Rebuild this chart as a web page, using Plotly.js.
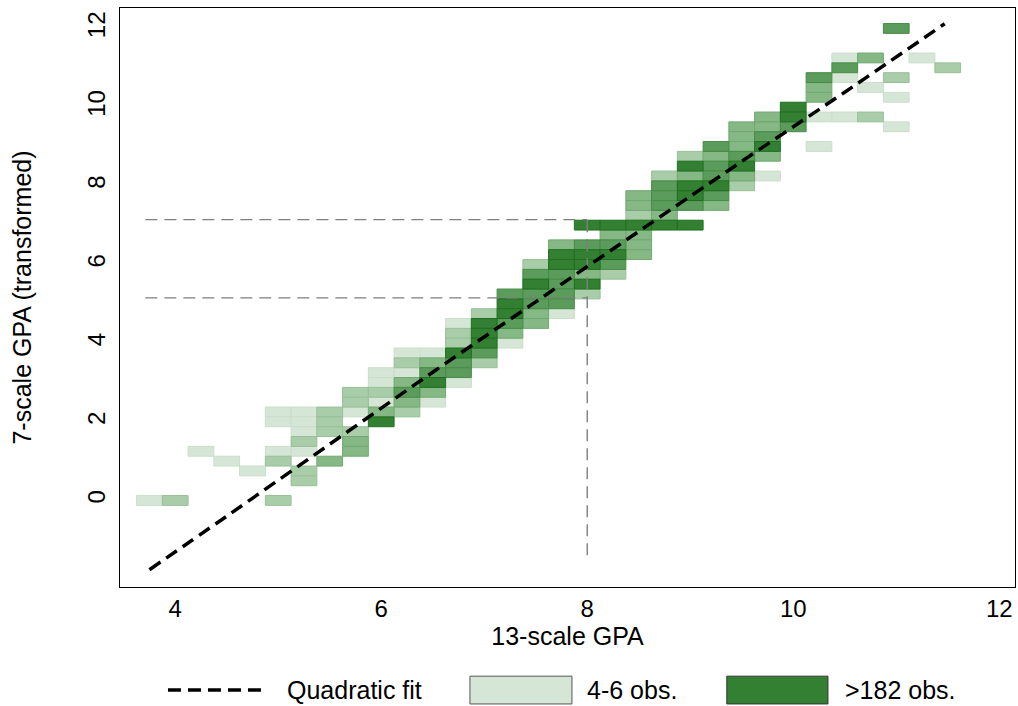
<!DOCTYPE html>
<html><head><meta charset="utf-8">
<script src="https://cdn.plot.ly/plotly-3.0.1.min.js"></script>
<style>html,body{margin:0;padding:0;background:#fff}#chart{width:1018px;height:706px}</style>
</head><body><div id="chart"></div>
<script>
// Cell centres (13-scale GPA, 7-scale GPA transformed) and shading level (1 = 4-6 obs. ... 5 = >182 obs.)
const cellX = [
  3.75, 4.0, 4.25, 4.5, 4.75,
  5.0, 5.0, 5.0, 5.0, 5.0,
  5.25, 5.25, 5.25, 5.25, 5.25, 5.25, 5.25,
  5.5, 5.5, 5.5, 5.5,
  5.75, 5.75, 5.75, 5.75, 5.75, 5.75,
  6.0, 6.0, 6.0, 6.0, 6.0, 6.0,
  6.25, 6.25, 6.25, 6.25, 6.25, 6.25, 6.25,
  6.5, 6.5, 6.5, 6.5, 6.5, 6.5,
  6.75, 6.75, 6.75, 6.75, 6.75, 6.75, 6.75,
  7.0, 7.0, 7.0, 7.0, 7.0, 7.0,
  7.25, 7.25, 7.25, 7.25, 7.25, 7.25,
  7.5, 7.5, 7.5, 7.5, 7.5, 7.5, 7.5,
  7.75, 7.75, 7.75, 7.75, 7.75, 7.75, 7.75, 7.75,
  8.0, 8.0, 8.0, 8.0, 8.0, 8.0, 8.0,
  8.25, 8.25, 8.25, 8.25, 8.25, 8.25,
  8.5, 8.5, 8.5, 8.5, 8.5, 8.5, 8.5,
  8.75, 8.75, 8.75, 8.75, 8.75, 8.75,
  9.0, 9.0, 9.0, 9.0, 9.0, 9.0, 9.0,
  9.25, 9.25, 9.25, 9.25, 9.25, 9.25, 9.25,
  9.5, 9.5, 9.5, 9.5, 9.5, 9.5, 9.5,
  9.75, 9.75, 9.75, 9.75, 9.75, 9.75,
  10.0, 10.0, 10.0,
  10.25, 10.25, 10.25, 10.25, 10.25,
  10.5, 10.5, 10.5, 10.5,
  10.75, 10.75, 10.75,
  11.0, 11.0, 11.0, 11.0,
  11.25,
  11.5
];
const cellY = [
  0, 0, 1.25, 1.0, 0.75,
  2.25, 2.0, 1.25, 1.0, 0,
  2.25, 2.0, 1.75, 1.5, 1.25, 0.75, 0.5,
  2.25, 2.0, 1.75, 1.0,
  2.75, 2.5, 2.25, 1.75, 1.5, 1.25,
  3.25, 3.0, 2.75, 2.5, 2.25, 2.0,
  3.75, 3.5, 3.25, 3.0, 2.75, 2.5, 2.25,
  3.75, 3.5, 3.25, 3.0, 2.75, 2.5,
  4.5, 4.25, 4.0, 3.75, 3.5, 3.25, 3.0,
  4.75, 4.5, 4.25, 4.0, 3.75, 3.5,
  5.25, 5.0, 4.75, 4.5, 4.25, 4.0,
  6.0, 5.75, 5.5, 5.25, 5.0, 4.75, 4.5,
  6.5, 6.25, 6.0, 5.75, 5.5, 5.25, 5.0, 4.75,
  7.0, 6.5, 6.25, 6.0, 5.75, 5.5, 5.25,
  7.0, 6.75, 6.5, 6.25, 6.0, 5.75,
  7.75, 7.5, 7.25, 7.0, 6.75, 6.5, 6.25,
  8.25, 8.0, 7.75, 7.5, 7.25, 7.0,
  8.75, 8.5, 8.25, 8.0, 7.75, 7.5, 7.0,
  9.0, 8.75, 8.5, 8.25, 8.0, 7.75, 7.5,
  9.5, 9.25, 9.0, 8.75, 8.5, 8.25, 8.0,
  9.75, 9.5, 9.25, 9.0, 8.75, 8.25,
  10.0, 9.75, 9.5,
  10.75, 10.5, 10.25, 9.75, 9.0,
  11.25, 11.0, 10.75, 9.75,
  11.25, 10.5, 9.75,
  12.0, 10.75, 10.25, 9.5,
  11.25,
  11.0
];
const cellLevel = [
  1, 2, 1, 1, 1,
  1, 1, 1, 2, 2,
  1, 1, 1, 2, 1, 2, 2,
  2, 2, 2, 3,
  2, 2, 1, 2, 3, 3,
  1, 1, 2, 1, 3, 5,
  1, 2, 1, 3, 4, 3, 2,
  1, 3, 4, 5, 3, 1,
  1, 2, 2, 5, 4, 4, 1,
  2, 5, 5, 5, 4, 2,
  4, 5, 5, 4, 3, 1,
  2, 4, 5, 4, 4, 3, 3,
  3, 5, 5, 4, 4, 4, 4, 1,
  5, 4, 5, 5, 3, 5, 2,
  5, 3, 4, 5, 4, 2,
  3, 3, 2, 5, 3, 3, 3,
  2, 4, 4, 4, 3, 5,
  2, 5, 3, 5, 5, 4, 5,
  4, 3, 4, 4, 5, 4, 3,
  3, 3, 3, 4, 5, 3, 2,
  3, 3, 4, 5, 3, 1,
  5, 5, 4,
  4, 3, 3, 1, 1,
  1, 4, 1, 1,
  3, 1, 2,
  4, 2, 1, 1,
  1,
  2
];
const levelFill = ['#d6e6d6', '#a9cca9', '#86b886', '#5b9b5b', '#338033'];
const levelEdge = ['#c9dec9', '#97c197', '#70a970', '#468c46', '#1f6f1f'];
const legendLevels = [1, 5];
const legendLabels = ['4-6 obs.', '>182 obs.'];

// Quadratic fit
const fitX = [3.75, 4.5, 5.5, 6.5, 7.5, 8.5, 9.5, 10.5, 11.47];
const fitY = [-1.76, -0.40, 1.43, 3.26, 5.05, 6.84, 8.62, 10.38, 12.12];

// Reference lines at 13-scale GPA = 8
const refX = 8;
const refLeftX = 3.71;
const refBottomY = -1.39;
const refLevels = [7.14, 5.15];

const binW = 0.25, binH = 0.25;
const FONT = '"Liberation Sans", Arial, Helvetica, sans-serif';

const traces = [];
for (let L = 1; L <= 5; L++) {
  const xs = [], bs = [], hs = [];
  cellX.forEach((x, i) => {
    if (cellLevel[i] === L) { xs.push(x); bs.push(cellY[i] - binH / 2); hs.push(binH); }
  });
  traces.push({
    type: 'bar', x: xs, y: hs, base: bs, width: binW,
    marker: { color: levelFill[L - 1], line: { color: levelEdge[L - 1], width: 1 } },
    showlegend: false, hoverinfo: 'skip'
  });
}
const refStyle = { color: '#7f7f7f', width: 1.4, dash: '12px,7px' };
refLevels.forEach(v => {
  traces.push({ type: 'scatter', mode: 'lines', x: [refLeftX, refX], y: [v, v], line: refStyle, showlegend: false, hoverinfo: 'skip' });
});
traces.push({ type: 'scatter', mode: 'lines', x: [refX, refX], y: [refBottomY, Math.max(...refLevels)], line: refStyle, showlegend: false, hoverinfo: 'skip' });
traces.push({ type: 'scatter', mode: 'lines', x: fitX, y: fitY, line: { color: '#000', width: 3.5, dash: '13px,7px', shape: 'spline' }, name: 'Quadratic fit', showlegend: false, hoverinfo: 'skip' });

// Custom legend row below the plot
const legY = -0.178;
const shapes = [
  { type: 'line', xref: 'paper', yref: 'paper', x0: 0.0536, x1: 0.165, y0: legY, y1: legY, line: { color: '#000', width: 3.5, dash: '13px,7px' } },
  { type: 'rect', xref: 'paper', yref: 'paper', x0: 0.391, x1: 0.505, y0: -0.202, y1: -0.154, fillcolor: levelFill[legendLevels[0] - 1], line: { color: '#555', width: 1 } },
  { type: 'rect', xref: 'paper', yref: 'paper', x0: 0.678, x1: 0.791, y0: -0.202, y1: -0.154, fillcolor: levelFill[legendLevels[1] - 1], line: { color: '#333', width: 1 } }
];
const annFont = { family: FONT, size: 25, color: '#000' };
const annotations = [
  { xref: 'paper', yref: 'paper', x: 0.184, y: legY, xanchor: 'left', yanchor: 'middle', text: 'Quadratic fit', showarrow: false, font: annFont },
  { xref: 'paper', yref: 'paper', x: 0.52, y: legY, xanchor: 'left', yanchor: 'middle', text: legendLabels[0], showarrow: false, font: annFont },
  { xref: 'paper', yref: 'paper', x: 0.808, y: legY, xanchor: 'left', yanchor: 'middle', text: legendLabels[1], showarrow: false, font: annFont }
];

const layout = {
  width: 1018, height: 706,
  margin: { l: 120, r: 3, t: 8, b: 119 },
  paper_bgcolor: '#fff', plot_bgcolor: '#fff',
  barmode: 'overlay', bargap: 0,
  font: { family: FONT, color: '#000' },
  showlegend: false,
  xaxis: {
    range: [3.464, 12.153], tickvals: [4, 6, 8, 10, 12], ticks: '', showgrid: false, zeroline: false,
    showline: true, mirror: true, linecolor: '#000', linewidth: 1,
    tickfont: { family: FONT, size: 24 }, ticklabelstandoff: 0,
    title: { text: '13-scale GPA', font: { family: FONT, size: 25 }, standoff: 4 }
  },
  yaxis: {
    range: [-2.2, 12.52], tickvals: [0, 2, 4, 6, 8, 10, 12], ticks: '', showgrid: false, zeroline: false,
    showline: true, mirror: true, linecolor: '#000', linewidth: 1, tickangle: -90,
    tickfont: { family: FONT, size: 24 }, ticklabelstandoff: 4,
    title: { text: '7-scale GPA (transformed)', font: { family: FONT, size: 25 }, standoff: 44 }
  },
  shapes: shapes, annotations: annotations
};
Plotly.newPlot('chart', traces, layout, { displayModeBar: false, staticPlot: true });
</script>
</body></html>
